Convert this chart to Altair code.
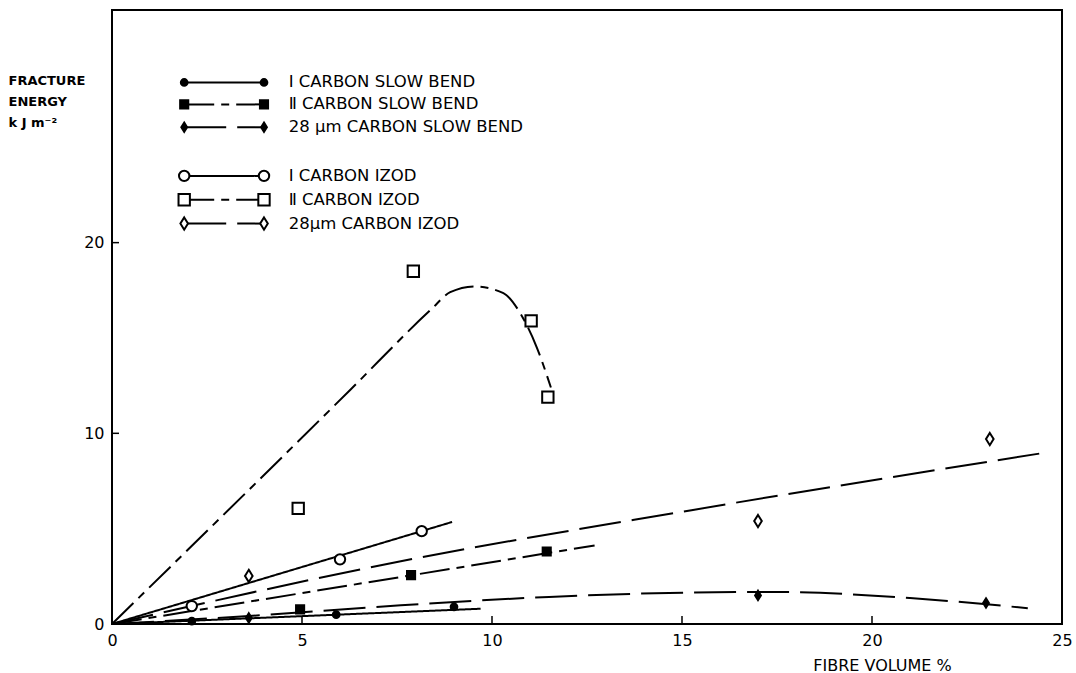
import altair as alt
import pandas as pd

SERIES = ["Ⅰ CARBON SLOW BEND", "Ⅱ CARBON SLOW BEND", "28 µm CARBON SLOW BEND",
          "Ⅰ CARBON IZOD", "Ⅱ CARBON IZOD", "28µm CARBON IZOD"]

# measured points (fibre volume %, fracture energy kJ m-2)
I_SB_X = [2.1, 5.9, 9.0]
I_SB_Y = [0.15, 0.49, 0.9]
II_SB_X = [4.95, 7.87, 11.44]
II_SB_Y = [0.77, 2.56, 3.8]
F28_SB_X = [3.6, 17.0, 23.0]
F28_SB_Y = [0.32, 1.5, 1.1]
I_IZ_X = [2.1, 6.0, 8.15]
I_IZ_Y = [0.94, 3.39, 4.87]
II_IZ_X = [4.9, 7.93, 11.03, 11.47]
II_IZ_Y = [6.06, 18.5, 15.9, 11.9]
F28_IZ_X = [3.6, 17.0, 23.1]
F28_IZ_Y = [2.52, 5.4, 9.7]

# hand-drawn fitted curves
I_SB_CX = [0, 9.7]
I_SB_CY = [0, 0.8]
II_SB_CX = [0, 12.7]
II_SB_CY = [0, 4.12]
F28_SB_CX = [0, 3.6, 7.6, 11.5, 15.3, 17.5, 21.0, 24.1]
F28_SB_CY = [0, 0.42, 0.98, 1.42, 1.65, 1.68, 1.36, 0.83]
I_IZ_CX = [0, 8.95]
I_IZ_CY = [0, 5.35]
II_IZ_CX = [0, 6.26, 8.4, 8.9, 9.55, 10.3, 10.8, 11.18, 11.55]
II_IZ_CY = [0, 12.26, 16.5, 17.4, 17.7, 17.35, 16.1, 14.5, 12.4]
F28_IZ_CX = [0, 7.6, 15.25, 24.45]
F28_IZ_CY = [0, 3.29, 5.97, 8.95]

X_TICKS = [0, 5, 10, 15, 20, 25]
Y_TICKS = [0, 10, 20]

pts_x = [I_SB_X, II_SB_X, F28_SB_X, I_IZ_X, II_IZ_X, F28_IZ_X]
pts_y = [I_SB_Y, II_SB_Y, F28_SB_Y, I_IZ_Y, II_IZ_Y, F28_IZ_Y]
crv_x = [I_SB_CX, II_SB_CX, F28_SB_CX, I_IZ_CX, II_IZ_CX, F28_IZ_CX]
crv_y = [I_SB_CY, II_SB_CY, F28_SB_CY, I_IZ_CY, II_IZ_CY, F28_IZ_CY]

pts = pd.DataFrame([
    {"series": s, "x": x, "y": y}
    for s, xs, ys in zip(SERIES, pts_x, pts_y) for x, y in zip(xs, ys)
])
crv = pd.DataFrame([
    {"series": s, "x": x, "y": y, "o": i}
    for s, xs, ys in zip(SERIES, crv_x, crv_y) for i, (x, y) in enumerate(zip(xs, ys))
])

# legend layout (in data units)
leg_rows = [28.4, 27.25, 26.05, 23.5, 22.25, 21.0]
leg = pd.DataFrame({"series": SERIES, "y": leg_rows, "x1": [1.9] * 6, "x2": [4.0] * 6,
                    "xt": [4.65] * 6})

FONT = "DejaVu Sans"
DIAMOND = "M0,-1L0.62,0L0,1L-0.62,0Z"
dom = SERIES
shape_sc = alt.Scale(domain=dom, range=["circle", "square", DIAMOND, "circle", "square", DIAMOND])
fill_sc = alt.Scale(domain=dom, range=["black", "black", "black", "white", "white", "white"])
size_sc = alt.Scale(domain=dom, range=[45, 150, 200, 80, 115, 200])
dash_sc = alt.Scale(domain=dom, range=[[1, 0], [30, 7, 8, 7], [42, 11], [1, 0], [30, 7, 8, 7], [42, 11]])

W, H = 950, 614
xs = alt.Scale(domain=[0, 25], nice=False, zero=False)
ys = alt.Scale(domain=[0, 32.2], nice=False, zero=False)

X = alt.X("x:Q", scale=xs, axis=alt.Axis(
    values=X_TICKS, tickSize=0, domain=False, grid=False, labelFlush=False,
    labelFont=FONT, labelFontSize=16, labelColor="black", labelPadding=8,
    title="FIBRE VOLUME %", titleFont=FONT, titleFontSize=16, titleFontWeight="normal",
    titleColor="black", titleX=770, titleY=41, titleAlign="center", titleBaseline="middle"))
Y = alt.Y("y:Q", scale=ys, axis=alt.Axis(
    values=Y_TICKS, tickSize=0, domain=False, grid=False,
    labelFont=FONT, labelFontSize=16, labelColor="black", labelPadding=8,
    title=["FRACTURE", "ENERGY", "k J m⁻²"], titleFont=FONT, titleFontSize=13,
    titleFontWeight="bold", titleColor="black", titleAngle=0, titleAlign="left",
    titleBaseline="top", titleX=-104, titleY=64, titleLineHeight=21))

curves = alt.Chart(crv).mark_line(color="black", strokeWidth=2, interpolate="monotone").encode(
    x=X, y=Y, detail="series:N", order="o:Q",
    strokeDash=alt.StrokeDash("series:N", scale=dash_sc, legend=None))

points = alt.Chart(pts).mark_point(stroke="black", strokeWidth=2, opacity=1, filled=False).encode(
    x="x:Q", y="y:Q",
    shape=alt.Shape("series:N", scale=shape_sc, legend=None),
    fill=alt.Fill("series:N", scale=fill_sc, legend=None),
    size=alt.Size("series:N", scale=size_sc, legend=None))

leg_lines = alt.Chart(leg).mark_rule(color="black", strokeWidth=2).encode(
    x="x1:Q", x2="x2:Q", y="y:Q",
    strokeDash=alt.StrokeDash("series:N", scale=dash_sc, legend=None))
leg_pts_l = alt.Chart(leg).mark_point(stroke="black", strokeWidth=2, opacity=1).encode(
    x="x1:Q", y="y:Q",
    shape=alt.Shape("series:N", scale=shape_sc, legend=None),
    fill=alt.Fill("series:N", scale=fill_sc, legend=None),
    size=alt.Size("series:N", scale=size_sc, legend=None))
leg_pts_r = alt.Chart(leg).mark_point(stroke="black", strokeWidth=2, opacity=1).encode(
    x="x2:Q", y="y:Q",
    shape=alt.Shape("series:N", scale=shape_sc, legend=None),
    fill=alt.Fill("series:N", scale=fill_sc, legend=None),
    size=alt.Size("series:N", scale=size_sc, legend=None))
leg_text = alt.Chart(leg).mark_text(align="left", baseline="middle", font=FONT, fontSize=16.5,
                                    color="black").encode(x="xt:Q", y="y:Q", text="series:N")

xt = pd.DataFrame({"x": X_TICKS[1:-1]})
x_ticks = alt.Chart(xt).mark_rule(color="black", strokeWidth=1.5).encode(
    x="x:Q", y=alt.value(H), y2=alt.value(H - 8))
yt = pd.DataFrame({"y": Y_TICKS[1:]})
y_ticks = alt.Chart(yt).mark_rule(color="black", strokeWidth=1.5).encode(
    y="y:Q", x=alt.value(0), x2=alt.value(7))

chart = alt.layer(curves, points, leg_lines, leg_pts_l, leg_pts_r, leg_text, x_ticks, y_ticks).properties(
    width=W, height=H,
    autosize=alt.AutoSizeParams(type="none"),
    padding={"left": 112, "top": 10, "right": 14, "bottom": 49},
    background="white",
).configure_view(stroke="black", strokeWidth=2)

chart.save("out.html", embed_options={"renderer": "svg", "actions": False})
